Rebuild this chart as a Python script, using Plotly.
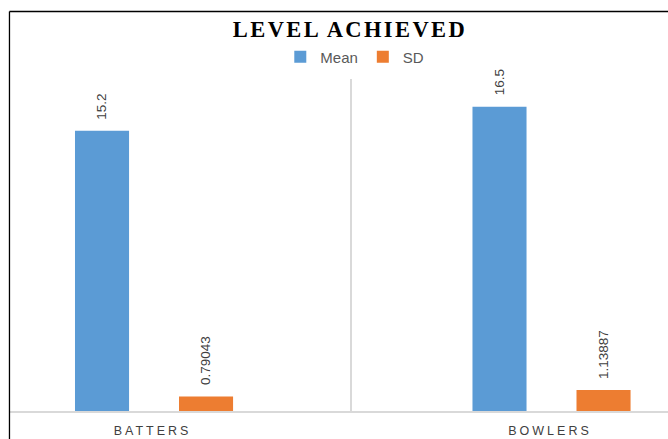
import plotly.graph_objects as go

categories = ["BATTERS", "BOWLERS"]
series_names = ["Mean", "SD"]
mean_values = [15.2, 16.5]
sd_values = [0.79043, 1.13887]
value_labels_mean = ["15.2", "16.5"]
value_labels_sd = ["0.79043", "1.13887"]

colors = {"Mean": "#5B9BD5", "SD": "#ED7D31"}
bar_width = 0.136
offsets = {"Mean": -0.195, "SD": 0.0667}

fig = go.Figure()
series = [("Mean", mean_values, value_labels_mean), ("SD", sd_values, value_labels_sd)]
for name, vals, labels in series:
    fig.add_trace(go.Bar(
        x=categories, y=vals, name=name,
        marker=dict(color=colors[name], line=dict(width=0)),
        width=bar_width, offset=offsets[name],
    ))

annotations = []
for name, vals, labels in series:
    for i, (v, lab) in enumerate(zip(vals, labels)):
        annotations.append(dict(
            x=i + offsets[name] + bar_width / 2, y=v, xref="x", yref="y",
            text=lab, textangle=-90, showarrow=False,
            xanchor="center", yanchor="bottom", yshift=9,
            font=dict(family="Liberation Sans, Arial", size=13.5, color="#404040"),
        ))

shapes = [
    dict(type="line", xref="paper", yref="paper", x0=-0.0008, x1=-0.0008, y0=-0.2, y1=1.2033,
         line=dict(color="#000000", width=1.3)),
    dict(type="line", xref="paper", yref="paper", x0=-0.0008, x1=1.01, y0=1.2033, y1=1.2033,
         line=dict(color="#000000", width=1.3)),
]

fig.update_layout(
    width=668, height=439,
    margin=dict(l=10, r=0, t=79, b=28),
    paper_bgcolor="white", plot_bgcolor="white",
    barmode="overlay",
    title=dict(
        text='<span style="letter-spacing:2.4px">LEVEL ACHIEVED</span>',
        x=350 / 668, xref="container", xanchor="center",
        y=1 - 29 / 439, yref="container", yanchor="middle",
        font=dict(family="Liberation Serif, Times New Roman", size=22.5, color="#000000", weight="bold"),
    ),
    legend=dict(
        orientation="h", x=0.524, xanchor="center", y=1.066, yanchor="middle",
        font=dict(family="Liberation Sans, Arial", size=15, color="#595959"),
        bgcolor="rgba(0,0,0,0)", itemwidth=30, tracegroupgap=0,
    ),
    xaxis=dict(
        type="category", range=[-0.3585, 1.2969],
        tickvals=categories,
        ticktext=['<span style="letter-spacing:3px">%s</span>' % c for c in categories],
        tickfont=dict(family="Liberation Sans, Arial", size=12.5, color="#404040"),
        ticks="", ticklabelstandoff=7,
        showgrid=True, gridcolor="#d9d9d9", gridwidth=2, tickson="boundaries",
        showline=True, linecolor="#d9d9d9", linewidth=2, zeroline=False,
    ),
    yaxis=dict(range=[0, 18], showgrid=False, showticklabels=False, zeroline=False, showline=False),
    annotations=annotations,
    shapes=shapes,
)

fig.write_html("out.html")
